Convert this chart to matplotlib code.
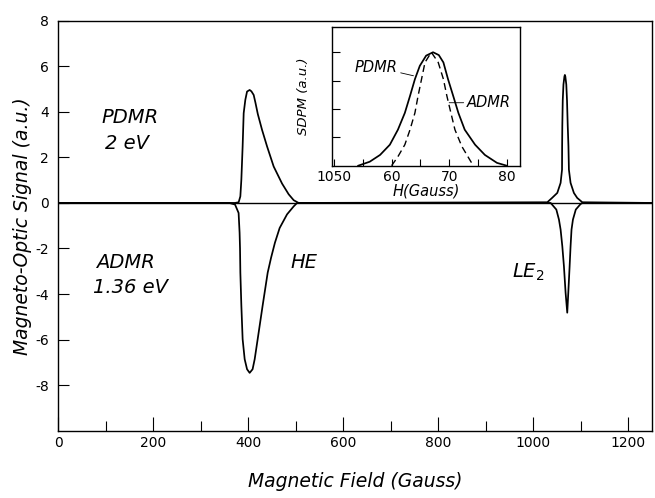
import matplotlib
matplotlib.use("Agg")
import matplotlib.pyplot as plt
from matplotlib.ticker import FixedLocator

plt.rcParams['font.family'] = ['DejaVu Sans']

# ---------------- data ----------------
# Main panel: PDMR (2 eV) signal, positive
pdmr_x = [0, 360, 372, 379.6, 383.2, 385.3, 388, 390.2, 393.7, 397.3, 402.8,
          406.5, 411.3, 415, 420, 428.9, 439.5, 453.4, 471.1, 485, 495.6, 506,
          1030, 1040, 1051, 1058, 1061, 1061.2, 1061.6, 1062.5, 1064, 1066, 1067,
          1068, 1070, 1071.5, 1073, 1074.5, 1075.5, 1079, 1086, 1093, 1103.7, 1250]
pdmr_y = [0, 0, 0.0, 0.03, 0.29, 1.02, 2.48, 3.94, 4.53, 4.89, 4.96,
          4.9, 4.74, 4.4, 3.9, 3.21, 2.48, 1.6, 0.85, 0.38, 0.12, 0.0,
          0.03, 0.22, 0.44, 0.88, 1.46, 2.5, 3.4, 4.5, 5.2, 5.55, 5.62,
          5.55, 5.2, 4.5, 3.4, 2.5, 1.46, 0.88, 0.44, 0.22, 0.03, 0]

# Main panel: ADMR (1.36 eV) signal, negative
admr_x = [0, 360, 372, 379.5, 381.6, 382.5, 383.2, 385.3, 388, 392.3, 397.3, 402.8,
          409, 413.4, 419.7, 430.2, 440.8, 448, 456, 466, 481.6, 495.6, 502.7,
          1037, 1049, 1054.5, 1058, 1061.6, 1065, 1068.5, 1072,
          1074.2, 1077, 1079, 1081, 1084, 1090, 1100, 1104, 1250]
admr_y = [0, 0, -0.07, -0.44, -1.31, -2.0, -3.06, -4.5, -5.98, -6.86, -7.3, -7.46,
          -7.3, -6.86, -5.98, -4.5, -3.06, -2.4, -1.75, -1.1, -0.5, -0.15, 0,
          0, -0.29, -0.73, -1.17, -1.9, -2.78, -3.94, -4.82,
          -3.94, -2.78, -1.9, -1.17, -0.73, -0.29, -0.05, 0, 0]

# Inset: SDPM line shapes of LE2
ins_pdmr_x = [1054.2, 1056.2, 1058, 1059.7, 1061.1, 1062.3, 1063.2, 1064.05, 1064.9,
              1066.0, 1067.2, 1068.2, 1069, 1069.8, 1070.7, 1071.6, 1072.7, 1074.5,
              1076.2, 1078.3, 1080]
ins_pdmr_y = [0, 0.14, 0.38, 0.74, 1.27, 1.86, 2.46, 3.05, 3.52,
              3.88, 4.0, 3.9, 3.64, 3.05, 2.46, 1.86, 1.27, 0.74,
              0.38, 0.1, 0]
ins_admr_x = [1060, 1061.1, 1062.3, 1063.2, 1064.05, 1064.6, 1065.2, 1065.8, 1066.9,
              1068.1, 1069, 1069.6, 1070.3, 1071, 1072.2, 1073.6, 1074.2]
ins_admr_y = [0, 0.32, 0.74, 1.27, 1.86, 2.46, 3.05, 3.64, 4.0,
              3.64, 3.05, 2.46, 1.86, 1.27, 0.68, 0.2, 0]

main_xticks = [0, 200, 400, 600, 800, 1000, 1200]
main_xtick_labels = ['0', '200', '400', '600', '800', '1000', '1200']
main_yticks = [-8, -6, -4, -2, 0, 2, 4, 6, 8]
main_ytick_labels = ['-8', '-6', '-4', '-2', '0', '2', '4', '6', '8']
inset_xticks = [1050, 1060, 1070, 1080]
inset_xtick_labels = ['1050', '60', '70', '80']
inset_yticks = [1, 2, 3, 4]

# ---------------- figure ----------------
fig = plt.figure(figsize=(6.55, 4.98), dpi=100)
ax = fig.add_axes([0.0893, 0.1351, 0.995 - 0.0893, 0.9584 - 0.1351])

ax.axhline(0, color='black', lw=1.0, zorder=1)
ax.plot(pdmr_x, pdmr_y, color='black', lw=1.25, solid_joinstyle='round')
ax.plot(admr_x, admr_y, color='black', lw=1.25, solid_joinstyle='round')

ax.set_xlim(0, 1250)
ax.set_ylim(-10, 8)
ax.set_xticks(main_xticks)
ax.set_xticklabels(main_xtick_labels)
ax.xaxis.set_minor_locator(FixedLocator([100, 300, 500, 700, 900, 1100]))
ax.set_yticks(main_yticks)
ax.set_yticklabels(main_ytick_labels)
ax.tick_params(axis='x', which='major', direction='in', length=10, width=0.8,
               labelsize=10, pad=4)
ax.tick_params(axis='x', which='minor', direction='in', length=7, width=0.8)
ax.tick_params(axis='y', which='major', direction='in', length=8, width=0.8,
               labelsize=10, pad=7)
for s in ax.spines.values():
    s.set_linewidth(1.0)

ax.set_xlabel('Magnetic Field (Gauss)', fontsize=13.5, style='italic', labelpad=16)
ax.set_ylabel('Magneto-Optic Signal (a.u.)', fontsize=13.5, style='italic', labelpad=2)

tkw = dict(fontsize=14, style='italic', ha='left', va='center')
ax.text(91, 3.75, 'PDMR', **tkw)
ax.text(97, 2.6, '2 eV', **tkw)
ax.text(80, -2.6, 'ADMR', **tkw)
ax.text(72, -3.7, '1.36 eV', **tkw)
ax.text(488, -2.6, 'HE', **tkw)
ax.text(956, -3.06, r'LE$_2$', **tkw)

# ---------------- inset ----------------
ins = fig.add_axes([331.7 / 655, 1 - 165.7 / 498, (520 - 331.7) / 655, (165.7 - 26.7) / 498])
ins.plot(ins_pdmr_x, ins_pdmr_y, color='black', lw=1.25, solid_joinstyle='round')
ins.plot(ins_admr_x, ins_admr_y, color='black', lw=1.0, dashes=(5, 3))
ins.set_xlim(1049.6, 1082.3)
ins.set_ylim(0, 4.9)
ins.set_xticks(inset_xticks)
ins.set_xticklabels(inset_xtick_labels)
ins.xaxis.set_minor_locator(FixedLocator([1055, 1065, 1075]))
ins.set_yticks(inset_yticks)
ins.set_yticklabels([])
ins.tick_params(axis='x', which='both', direction='in', length=5, width=0.8,
                labelsize=10, pad=3)
ins.tick_params(axis='y', direction='in', length=6, width=0.8)
for s in ins.spines.values():
    s.set_linewidth(1.0)
ins.set_xlabel('H(Gauss)', fontsize=10.5, style='italic', labelpad=0)
ins.set_ylabel('SDPM (a.u.)', fontsize=9.5, style='italic', labelpad=12)

ins.annotate('PDMR', xy=(1063.8, 3.17), xytext=(1061.1, 3.47), fontsize=10.5,
             style='italic', ha='right', va='center',
             arrowprops=dict(arrowstyle='-', lw=0.6, color='black', shrinkA=0, shrinkB=0))
ins.annotate('ADMR', xy=(1070.0, 2.22), xytext=(1073.0, 2.22), fontsize=10.5,
             style='italic', ha='left', va='center',
             arrowprops=dict(arrowstyle='-', lw=0.6, color='black', shrinkA=0, shrinkB=0))

fig.savefig('out.png', dpi=100)
